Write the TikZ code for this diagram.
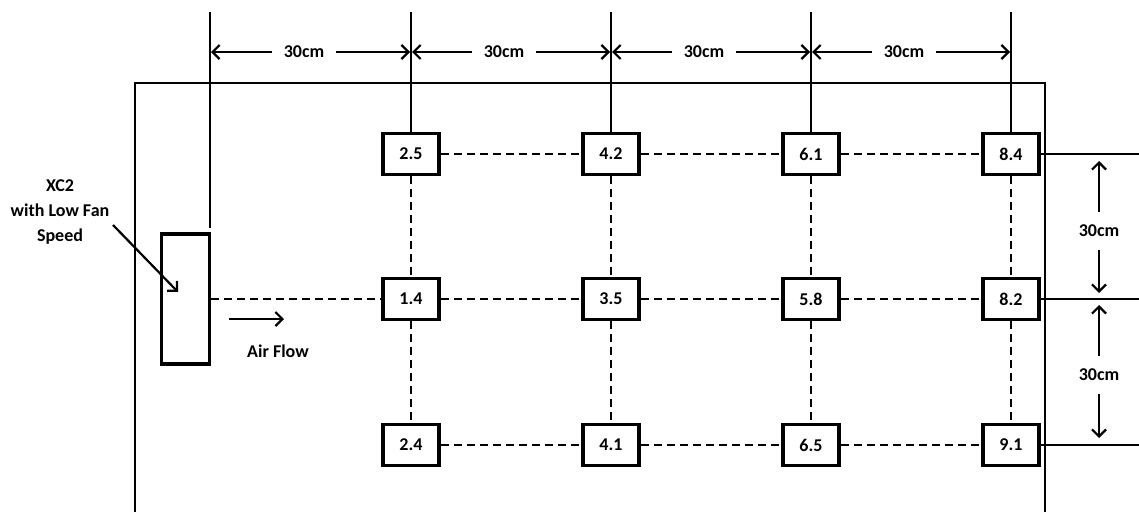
\documentclass[tikz,border=0pt]{standalone}
\usepackage{fontspec}
\setmainfont{Carlito}
\usetikzlibrary{arrows.meta}
\begin{document}
\begin{tikzpicture}[x=1pt,y=-1pt,
  font=\fontsize{18}{25}\selectfont\bfseries,
  sensor/.style={draw, line width=3.5pt, minimum width=56pt, minimum height=41pt, inner sep=0pt, fill=white},
  thinline/.style={line width=2.2pt},
  gridline/.style={line width=2.2pt, dash pattern=on 8pt off 5pt},
  dimarrow/.style={line width=2.2pt, -{Straight Barb[length=7pt,width=14pt,line width=2.2pt]}},
  hdim/.style={inner ysep=0pt, inner xsep=12pt, text height=11pt, text depth=0pt},
  vdim/.style={inner xsep=0pt, inner ysep=13pt, text height=11pt, text depth=0pt}]
\useasboundingbox (0,0) rectangle (1139,512);

% outer wall
\draw[thinline] (135,512) -- (135,83) -- (1045,83) -- (1045,512);

% fan unit
\node[draw, line width=3.5pt, minimum width=48pt, minimum height=130pt, inner sep=0pt] (fan) at (185.5,299) {};

% sensor boxes
\node[sensor] (a1) at (411,154) {2.5};
\node[sensor] (a2) at (611,154) {4.2};
\node[sensor] (a3) at (811,154) {6.1};
\node[sensor] (a4) at (1011,154) {8.4};
\node[sensor] (b1) at (411,299) {1.4};
\node[sensor] (b2) at (611,299) {3.5};
\node[sensor] (b3) at (811,299) {5.8};
\node[sensor] (b4) at (1011,299) {8.2};
\node[sensor] (c1) at (411,445) {2.4};
\node[sensor] (c2) at (611,445) {4.1};
\node[sensor] (c3) at (811,445) {6.5};
\node[sensor] (c4) at (1011,445) {9.1};

% dashed grid
\draw[gridline] (fan.east) -- (b1.west);
\foreach \r in {a,b,c}{
  \draw[gridline] (\r1.east) -- (\r2.west);
  \draw[gridline] (\r2.east) -- (\r3.west);
  \draw[gridline] (\r3.east) -- (\r4.west);
}
\foreach \c in {1,2,3,4}{
  \draw[gridline] (a\c.south) -- (b\c.north);
  \draw[gridline] (b\c.south) -- (c\c.north);
}

% extension lines (top)
\coordinate (t0) at (210,12);
\coordinate (t0e) at (210,228);
\coordinate (t1) at (411,12);
\coordinate (t2) at (611,12);
\coordinate (t3) at (811,12);
\coordinate (t4) at (1011,12);
\draw[thinline] (t0) -- (t0e);
\draw[thinline] (t1) -- (a1.north);
\draw[thinline] (t2) -- (a2.north);
\draw[thinline] (t3) -- (a3.north);
\draw[thinline] (t4) -- (a4.north);

% extension lines (right)
\coordinate (r1) at (1139,154);
\coordinate (r2) at (1139,299);
\coordinate (r3) at (1139,445);
\draw[thinline] (a4.east) -- (r1);
\draw[thinline] (b4.east) -- (r2);
\draw[thinline] (c4.east) -- (r3);

% horizontal dimensions
\coordinate (d0) at (210,52);
\coordinate (d1) at (411,52);
\coordinate (d2) at (611,52);
\coordinate (d3) at (811,52);
\coordinate (d4) at (1011,52);
\node[hdim] (l1) at (304,52) {30cm};
\node[hdim] (l2) at (504,52) {30cm};
\node[hdim] (l3) at (704,52) {30cm};
\node[hdim] (l4) at (904,52) {30cm};
\draw[dimarrow, shorten >=1pt] (l1.west) -- (d0);
\draw[dimarrow, shorten >=1pt] (l1.east) -- (d1);
\draw[dimarrow, shorten >=1pt] (l2.west) -- (d1);
\draw[dimarrow, shorten >=1pt] (l2.east) -- (d2);
\draw[dimarrow, shorten >=1pt] (l3.west) -- (d2);
\draw[dimarrow, shorten >=1pt] (l3.east) -- (d3);
\draw[dimarrow, shorten >=1pt] (l4.west) -- (d3);
\draw[dimarrow, shorten >=1pt] (l4.east) -- (d4);

% vertical dimensions
\coordinate (v1) at (1099,154);
\coordinate (v2) at (1099,299);
\coordinate (v3) at (1099,445);
\node[vdim] (m1) at (1099,231) {30cm};
\node[vdim] (m2) at (1099,375) {30cm};
\draw[dimarrow, shorten >=7pt] (m1.north) -- (v1);
\draw[dimarrow, shorten >=6pt] (m1.south) -- (v2);
\draw[dimarrow, shorten >=6pt] (m2.north) -- (v2);
\draw[dimarrow, shorten >=7pt] (m2.south) -- (v3);

% fan label
\node[align=center, inner sep=0pt] (xc) at (60,212) {XC2\\with Low Fan\\Speed};
\coordinate (xa) at (113,225);
\coordinate (xb) at (178,292);
\draw[dimarrow] (xa) -- (xb);

% air flow
\coordinate (af1) at (229,319);
\coordinate (af2) at (284,319);
\draw[dimarrow] (af1) -- (af2);
\node[inner sep=0pt] (aflabel) at (278,351) {Air Flow};
\end{tikzpicture}
\end{document}
